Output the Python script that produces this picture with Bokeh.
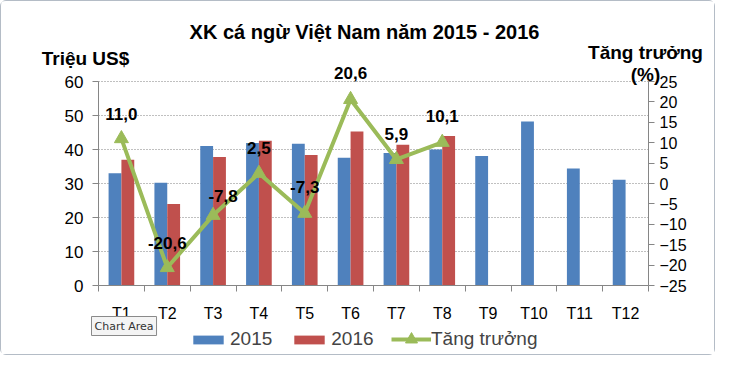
from bokeh.plotting import figure
from bokeh.models import (ColumnDataSource, Range1d, LinearAxis, FixedTicker,
                          Label, Legend, LegendItem)
from bokeh.transform import dodge
from bokeh.core.properties import value
from bokeh.embed import file_html
from bokeh.resources import INLINE

# ---------------- data ----------------
months = ["T1", "T2", "T3", "T4", "T5", "T6", "T7", "T8", "T9", "T10", "T11", "T12"]
exp_2015 = [33.0, 30.2, 41.0, 41.9, 41.7, 37.6, 39.0, 40.0, 38.1, 48.2, 34.4, 31.1]
exp_2016 = [37.0, 24.0, 37.8, 42.6, 38.4, 45.3, 41.4, 44.0]
growth = [11.0, -20.6, -7.8, 2.5, -7.3, 20.6, 5.9, 10.1]
left_ticks = [0, 10, 20, 30, 40, 50, 60]
right_ticks = [-25, -20, -15, -10, -5, 0, 5, 10, 15, 20, 25]

# label nudges (style only, pixels)
label_dx = [0, 0, 10, 0, 0, 0, 0, 0]
label_dy = [-25, -25, -19, -25, -26, -26, -25, -26]

FONT = "Liberation Sans"
BLUE = "#4F81BD"
RED = "#C0504D"
GREEN = "#9BBB59"
AXIS = "#868686"

# ---------------- layout (pixels) ----------------
W, H = 715, 355
PL, PR, PT, PB = 97, 647, 80, 284      # plot-area box inside the figure

pos = list(range(1, len(months) + 1))
x0, x1 = pos[0] - 0.5, pos[-1] + 0.5
ly0, ly1 = left_ticks[0], left_ticks[-1]
ry0, ry1 = right_ticks[0], right_ticks[-1]
xs = (PR - PL) / (x1 - x0)
lys = (PB - PT) / (ly1 - ly0)
rys = (PB - PT) / (ry1 - ry0)

x_range = Range1d(x0 - PL / xs, x1 + (W - PR) / xs)
y_range = Range1d(ly0 - (H - PB) / lys, ly1 + PT / lys)
g_range = Range1d(ry0 - (H - PB) / rys, ry1 + PT / rys)

src15 = ColumnDataSource(dict(x=pos, v=exp_2015))
src16 = ColumnDataSource(dict(x=pos[:len(exp_2016)], v=exp_2016))
srcg = ColumnDataSource(dict(
    x=pos[:len(growth)], g=growth,
    lbl=[f"{v:.1f}".replace(".", ",") for v in growth],
    dx=label_dx, dy=label_dy))
srcgrid = ColumnDataSource(dict(y=left_ticks[1:]))

p = figure(width=W, height=H, x_range=x_range, y_range=y_range,
           output_backend="svg", toolbar_location=None, title=None,
           min_border=0, min_border_left=0, min_border_right=0,
           min_border_top=0, min_border_bottom=0)
p.extra_y_ranges = {"g": g_range}
p.outline_line_color = None
p.background_fill_color = "white"
p.border_fill_color = "white"
p.styles = {"border": "1px solid #b4bcc6", "border-radius": "6px"}
p.xgrid.visible = False
p.ygrid.visible = False

# dotted gridlines across the plot area
p.segment(x0=x0, x1=x1, y0="y", y1="y", source=srcgrid,
          line_color="#808080", line_dash="1 2", line_width=1)

# bars
b15 = p.vbar(x=dodge("x", -0.14), top="v", width=0.28, source=src15,
             fill_color=BLUE, line_color=None)
b16 = p.vbar(x=dodge("x", 0.14), top="v", width=0.28, source=src16,
             fill_color=RED, line_color=None)

# growth line
ln = p.line(x="x", y="g", source=srcg, y_range_name="g", line_color=GREEN, line_width=4)
mk = p.scatter(x="x", y="g", source=srcg, y_range_name="g", marker="triangle",
               size=14, fill_color=GREEN, line_color=GREEN)
p.text(x="x", y="g", text="lbl", source=srcg, y_range_name="g",
       x_offset="dx", y_offset="dy", text_align="center", text_baseline="middle",
       text_font=value(FONT), text_font_style="bold", text_font_size="17px",
       text_color="black")

# x axis
xa = p.xaxis[0]
xa.fixed_location = ly0
xa.bounds = (x0, x1)
xa.ticker = FixedTicker(ticks=pos, minor_ticks=[x0 + i for i in range(len(pos) + 1)])
xa.major_label_overrides = {i: m for i, m in zip(pos, months)}
xa.major_tick_out = 0
xa.major_tick_in = 0
xa.minor_tick_out = 6
xa.minor_tick_in = 0
xa.minor_tick_line_color = AXIS
xa.axis_line_color = AXIS
xa.major_label_standoff = 13
xa.major_label_text_font = FONT
xa.major_label_text_font_size = "16px"
xa.major_label_text_color = "black"

# left axis
ya = p.yaxis[0]
ya.fixed_location = x0
ya.bounds = (ly0, ly1)
ya.ticker = FixedTicker(ticks=left_ticks)
ya.minor_tick_line_color = None
ya.major_tick_out = 6
ya.major_tick_in = 0
ya.major_tick_line_color = AXIS
ya.axis_line_color = AXIS
ya.major_label_standoff = 9
ya.major_label_text_font = FONT
ya.major_label_text_font_size = "17px"
ya.major_label_text_color = "black"

# right axis
ra = LinearAxis(y_range_name="g", ticker=FixedTicker(ticks=right_ticks))
ra.fixed_location = x1
ra.bounds = (ry0, ry1)
ra.minor_tick_line_color = None
ra.major_tick_out = 6
ra.major_tick_in = 0
ra.major_tick_line_color = AXIS
ra.axis_line_color = AXIS
ra.major_label_standoff = 5
ra.major_label_text_font = FONT
ra.major_label_text_font_size = "16px"
ra.major_label_text_color = "black"
p.add_layout(ra, "right")

# titles (screen units: origin at bottom-left of the figure)
def lab(text, x, y_top, size, bold=True):
    p.add_layout(Label(x=x, y=H - y_top, x_units="screen", y_units="screen", text=text,
                       text_font=FONT, text_font_size=size,
                       text_font_style="bold" if bold else "normal",
                       text_align="center", text_baseline="alphabetic", text_color="black"))

lab("XK cá ngừ Việt Nam năm 2015 - 2016", 363, 30, "20px")
lab("Triệu US$", 84, 57, "19px")
lab("Tăng trưởng", 644, 51, "19px")
lab("(%)", 644, 73, "19px")

# tooltip artifact
p.add_layout(Label(x=90, y=21, x_units="screen", y_units="screen", text="Chart Area",
                   text_font="DejaVu Sans", text_font_size="11px", text_color="#333333",
                   text_baseline="bottom", background_fill_color="#f4f4f4",
                   border_line_color="#8a8a8a", padding=3))

# legends
common = dict(orientation="horizontal", label_text_font=FONT, label_text_font_size="19px",
              padding=0, margin=0, border_line_color=None, background_fill_alpha=0)
legend_a = Legend(items=[LegendItem(label="2015", renderers=[b15]),
                         LegendItem(label="2016", renderers=[b16])],
                  location=(188, 6), glyph_width=38, glyph_height=11,
                  label_standoff=3, spacing=18, **common)
legend_b = Legend(items=[LegendItem(label="Tăng trưởng", renderers=[ln, mk])],
                  location=(390, 2), glyph_width=40, glyph_height=30,
                  label_standoff=0, spacing=0, **common)
p.add_layout(legend_a)
p.add_layout(legend_b)

open("out.html", "w").write(file_html(p, INLINE))
